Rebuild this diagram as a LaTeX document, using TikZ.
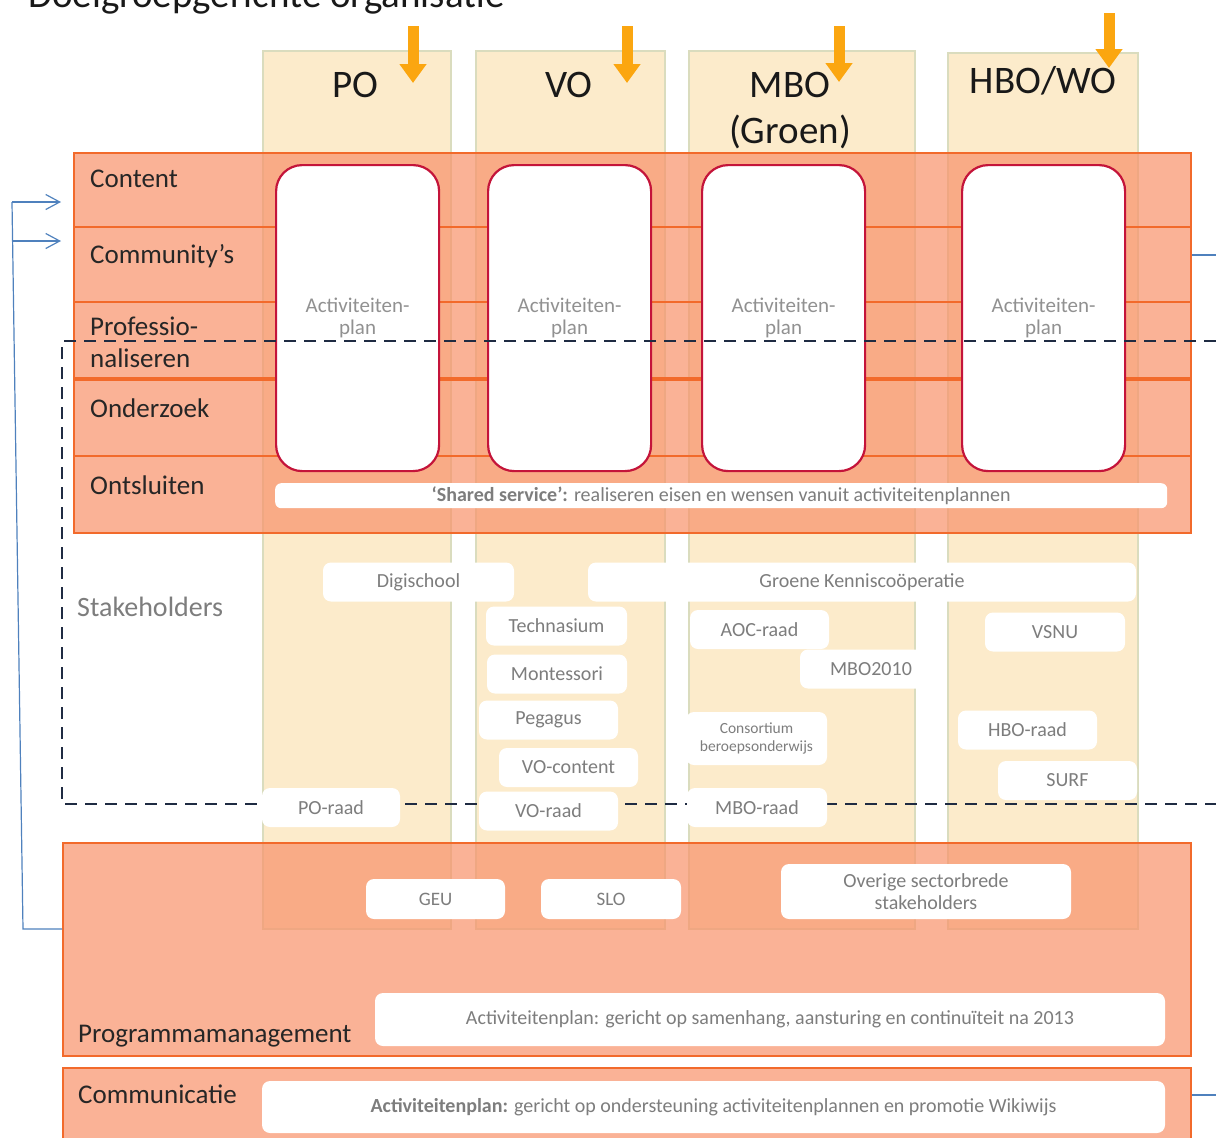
\documentclass[tikz,border=0pt]{standalone}
\usepackage{fontspec}
\setmainfont{Carlito}
\usetikzlibrary{arrows.meta,positioning}

\definecolor{colfill}{RGB}{252,235,203}
\definecolor{colline}{RGB}{218,220,190}
\definecolor{bandfill}{RGB}{248,145,105}
\definecolor{bandline}{RGB}{242,106,43}
\definecolor{planline}{RGB}{196,20,58}
\definecolor{greytext}{RGB}{125,125,125}
\definecolor{scopecol}{RGB}{31,43,66}
\definecolor{linkblue}{RGB}{79,129,189}
\definecolor{feedorange}{RGB}{251,166,16}

\tikzset{
  colbox/.style={draw=colline,fill=colfill,line width=1.5pt,anchor=north west,inner sep=0pt},
  band/.style={draw=bandline,line width=2pt,fill=bandfill,fill opacity=0.7,anchor=north west,inner sep=0pt},
  rowsep/.style={draw=bandline,line width=2.5pt},
  head/.style={anchor=base,font=\fontsize{39}{44}\selectfont,text=black!90},
  rowlabel/.style={anchor=base west,font=\fontsize{27}{30}\selectfont,text=black!85,inner sep=0pt},
  plan/.style={draw=planline,line width=2.2pt,fill=white,rounded corners=26pt,minimum width=163pt,minimum height=306pt,anchor=north west,inner sep=0pt},
  plantext/.style={text=greytext!85,font=\fontsize{21}{22}\selectfont,align=center},
  holder/.style={fill=white,rounded corners=8pt,text=greytext,font=\fontsize{20}{22}\selectfont,minimum height=39pt,inner sep=0pt,align=center},
  feed/.style={draw=feedorange,line width=11pt,-{Triangle[length=19pt,width=26pt]}},
  link/.style={draw=linkblue,line width=1.2pt},
  stakescope/.style={draw=scopecol,line width=2.2pt,dash pattern=on 12pt off 8pt},
}

\begin{document}
\begin{tikzpicture}[x=1pt,y=-1pt]
\useasboundingbox (0,0) rectangle (1216,1138);

\node[anchor=base west,font=\fontsize{39}{44}\selectfont,text=black!90,inner sep=0pt] (title) at (28,7) {Doelgroepgerichte organisatie};

\foreach \name/\xl/\yt/\w in {po/262/50/188,vo/475/50/189,mbo/688/50/226,hbo/947/52/190} {
  \pgfmathsetmacro\h{928-\yt}
  \node[colbox,minimum width=\w pt,minimum height=\h pt] (col-\name) at (\xl,\yt) {};
}

\node[head] (po-head) at (355,97) {PO};
\node[head] (vo-head) at (569,97) {VO};
\node[head] (mbo-head) at (790,97) {MBO};
\node[head] (mbo-sub) at (790,143) {(Groen)};
\node[head] (hbo-head) at (1043,93) {HBO/WO};

\foreach \name/\x/\yt/\yb in {po/413/26/83,vo/627/26/83,mbo/839/26/82,hbo/1109/13/68} {
  \coordinate (\name-in) at (\x,\yt);
  \coordinate (\name-tip) at (\x,\yb);
  \draw[feed] (\name-in) -- (\name-tip);
}

\node[band,minimum width=1117pt,minimum height=380pt] (core) at (73,152) {};
\foreach \y in {227,302,456}
  \draw[rowsep] (core.west |- 0,\y) -- (core.east |- 0,\y);
\draw[rowsep,line width=4pt] (core.west |- 0,379) -- (core.east |- 0,379);

\node[rowlabel] (content) at (90,187) {Content};
\node[rowlabel] (community) at (90,263) {Community’s};
\node[rowlabel] (prof) at (90,335) {Professio-};
\node[rowlabel] (prof-b) at (90,367) {naliseren};
\node[rowlabel] (onderzoek) at (90,417) {Onderzoek};
\node[rowlabel] (ontsluiten) at (90,494) {Ontsluiten};

\foreach \name/\x in {po/275,vo/487,mbo/701,hbo/961} {
  \node[plan] (plan-\name) at (\x,164) {};
  \node[plantext] (plan-\name-text) at (plan-\name.center) {Activiteiten-\\plan};
}

\node[holder,anchor=north west,minimum width=892pt,minimum height=25pt,rounded corners=6pt,font=\fontsize{20}{22}\selectfont] (shared) at (275,483) {\textbf{‘Shared service’:} realiseren eisen en wensen vanuit activiteitenplannen};

\coordinate (scope-ne) at (1216,341);
\coordinate (scope-se) at (1216,804);
\draw[stakescope] (scope-ne) -- (62,341) -- (62,804) -- (scope-se);

\node[anchor=base west,font=\fontsize{28}{30}\selectfont,text=greytext,inner sep=0pt] (stakeholders) at (77,616) {Stakeholders};

\foreach \name/\x/\y/\w/\label in {digischool/418.5/582/191/Digischool,groene/862/582/548/Groene Kenniscoöperatie,
    technasium/556.5/626/141/Technasium,montessori/557/674/140/Montessori,pegagus/548.5/720/139/Pegagus,
    vo-content/568.5/767.5/139/VO-content,po-raad/331/807.5/138/PO-raad,vo-raad/548.5/811/139/VO-raad,
    aoc-raad/759.5/629.5/139/AOC-raad,mbo2010/871/669/142/MBO2010,mbo-raad/757/807.5/140/MBO-raad,
    vsnu/1055/632/140/VSNU,hbo-raad/1027.5/730/139/HBO-raad,surf/1067.5/780.5/139/SURF}
  \node[holder,minimum width=\w pt] (\name) at (\x,\y) {\label};
\node[holder,minimum width=141pt,minimum height=53pt,font=\fontsize{15.5}{18}\selectfont] (consortium) at (756.5,738.5) {Consortium\\beroepsonderwijs};

\node[band,minimum width=1128pt,minimum height=213pt] (prog) at (62,842) {};
\node[holder,minimum width=139pt,minimum height=40pt,font=\fontsize{19}{22}\selectfont] (geu) at (435.5,899) {GEU};
\node[holder,minimum width=140pt,minimum height=40pt,font=\fontsize{19}{22}\selectfont] (slo) at (611,899) {SLO};
\node[holder,minimum width=290pt,minimum height=55pt] (overige) at (926,891.5) {Overige sectorbrede\\stakeholders};
\node[holder,minimum width=790pt,minimum height=53pt] (prog-plan) at (770,1019.5) {Activiteitenplan: gericht op samenhang, aansturing en continuïteit na 2013};
\node[rowlabel] (programma) at (78,1042) {Programmamanagement};

\node[band,minimum width=1128pt,minimum height=80pt] (comm) at (62,1067) {};
\node[holder,minimum width=903pt,minimum height=52pt] (comm-plan) at (713.5,1107) {\textbf{Activiteitenplan:} gericht op ondersteuning activiteitenplannen en promotie Wikiwijs};
\node[rowlabel] (communicatie) at (78,1103) {Communicatie};

\coordinate (loop-top) at (12,202);
\coordinate (loop-mid) at (13,241);
\coordinate (loop-bottom) at (23,929);
\coordinate (content-in) at (61,202);
\coordinate (community-in) at (61,241);
\draw[link] (prog.west |- 0,929) -- (loop-bottom) -- (loop-top);
\draw[link,-{Straight Barb[length=14pt,width=15pt]}] (loop-top) -- (content-in);
\draw[link,-{Straight Barb[length=14pt,width=15pt]}] (loop-mid) -- (community-in);
\coordinate (core-out) at (1216,255);
\coordinate (comm-out) at (1216,1095);
\draw[link] (core.east |- 0,255) -- (core-out);
\draw[link] (comm.east |- 0,1095) -- (comm-out);
\end{tikzpicture}
\end{document}
